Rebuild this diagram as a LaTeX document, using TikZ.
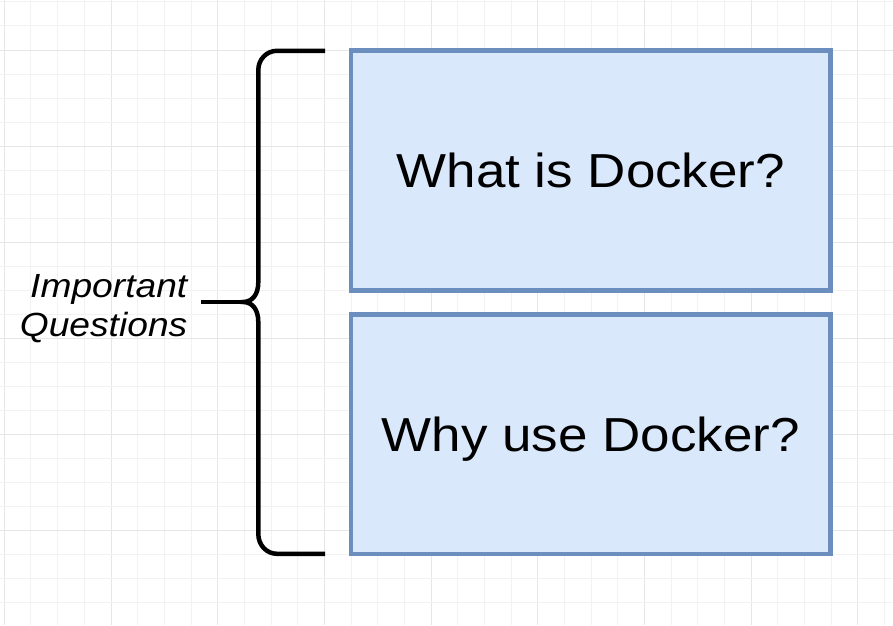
\documentclass[tikz,border=0pt]{standalone}
\usepackage{fontspec}
\newfontfamily\dfont[FakeStretch=1.11]{Liberation Sans}
\definecolor{gridminor}{RGB}{242,242,242}
\definecolor{gridmajor}{RGB}{230,230,230}
\definecolor{boxfill}{HTML}{DAE8FC}
\definecolor{boxdraw}{HTML}{6C8EBF}
\begin{document}
\begin{tikzpicture}[x=1pt,y=-1pt,
  qbox/.style={draw=boxdraw, fill=boxfill, line width=4.8pt,
    minimum width=479.7pt, minimum height=240pt, inner sep=0pt,
    text height=34pt, text depth=0pt,
    font=\dfont\fontsize{47.7}{57}\selectfont},
  bracestroke/.style={draw=black, line width=4.5pt},
  minorline/.style={draw=gridminor, line width=1pt},
  majorline/.style={draw=gridmajor, line width=1pt},
  qlabel/.style={font=\dfont\itshape\fontsize{33.5}{39}\selectfont,
    align=right, inner sep=0pt}]
\useasboundingbox (0,0) rectangle (893,625);
\fill[white] (0,0) rectangle (893,625);
% grid
\foreach \i in {-4,...,29}{
  \pgfmathtruncatemacro{\m}{mod(\i+40,4)}
  \ifnum\m=0
    \draw[majorline] ({111+26.667*\i},0) -- ({111+26.667*\i},625);
  \else
    \draw[minorline] ({111+26.667*\i},0) -- ({111+26.667*\i},625);
  \fi
}
\foreach \j in {-2,...,23}{
  \pgfmathtruncatemacro{\m}{mod(\j+40,4)}
  \ifnum\m=0
    \draw[majorline] (0,{50+24.04*\j}) -- (893,{50+24.04*\j});
  \else
    \draw[minorline] (0,{50+24.04*\j}) -- (893,{50+24.04*\j});
  \fi
}
% boxes
\node[qbox] (what) at (590.85,170.5) {What is Docker?};
\node[qbox, minimum height=239.2pt] (why) at (590.85,434.4) {Why use Docker?};
% label
\node[qlabel, anchor=base east] (label) at (187.5,336) {Important\\Questions};
% brace
\coordinate (btop) at (325,50.8);
\coordinate (bbot) at (325,553.8);
\coordinate (tip) at (243,302);
\coordinate (tail) at (200.5,302);
\draw[bracestroke] (btop) -- (277,50.8)
  .. controls (266.5,50.8) and (258.3,59.5) .. (258.3,70)
  -- (258.3,282)
  .. controls (258.3,295) and (252,302) .. (tip)
  .. controls (252,302) and (258.3,309) .. (258.3,322)
  -- (258.3,534)
  .. controls (258.3,545) and (266.5,553.8) .. (277,553.8)
  -- (bbot);
\draw[bracestroke] (tail) -- (tip);
\end{tikzpicture}
\end{document}
